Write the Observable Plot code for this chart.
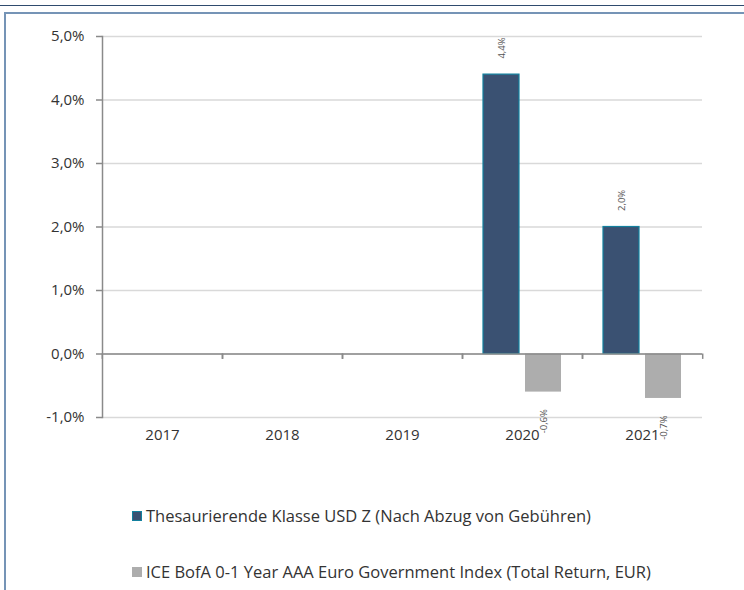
<!DOCTYPE html>
<html><head><meta charset="utf-8">
<script src="https://cdn.jsdelivr.net/npm/d3@7"></script>
<script src="https://cdn.jsdelivr.net/npm/@observablehq/plot@0.6"></script>
<style>
body{margin:0;background:#fff;font-family:"Open Sans",sans-serif;}
#page{position:relative;width:744px;height:590px;overflow:hidden;background:#fff;}
#topline{position:absolute;left:0;top:4.5px;width:744px;height:1.5px;background:#2f4b6e;}
#frame{position:absolute;left:4px;top:12px;width:800px;height:700px;border-left:2px solid #7594b6;border-top:2px solid #7594b6;}
#chart{position:absolute;left:0;top:0;}
.legend{position:absolute;left:132px;font-size:16.5px;line-height:22px;color:#333;display:flex;align-items:center;white-space:nowrap;}
.legend .sw{width:10px;height:10px;margin-right:4px;box-sizing:border-box;}
</style>
</head><body>
<div id="page">
  <div id="topline"></div>
  <div id="frame"></div>
  <div id="chart"></div>
  <div id="legend"></div>
</div>
<script>
const years = ["2017", "2018", "2019", "2020", "2021"];
const seriesNames = [
  "Thesaurierende Klasse USD Z (Nach Abzug von Gebühren)",
  "ICE BofA 0-1 Year AAA Euro Government Index (Total Return, EUR)"
];
const fundValues = [null, null, null, 4.4, 2.0];
const indexValues = [null, null, null, -0.6, -0.7];
const yTicks = [-1, 0, 1, 2, 3, 4, 5];
const colors = ["#3a5172", "#adadad"];
const fundStroke = "#12809e";

const rows = [];
years.forEach((yr, i) => {
  rows.push({year: yr, series: seriesNames[0], value: fundValues[i]});
  rows.push({year: yr, series: seriesNames[1], value: indexValues[i]});
});
const fmt = v => v == null ? "" : v.toFixed(1).replace(".", ",") + "%";

const W = 744, H = 460, ML = 101, MR = 41, MT = 36, MB = 43;
const halfBand = (W - ML - MR) / years.length / 2;

const chart = Plot.plot({
  width: W, height: H,
  marginTop: MT, marginLeft: ML, marginRight: MR, marginBottom: MB,
  style: {fontFamily: "Open Sans, sans-serif", color: "#333", background: "transparent"},
  fx: {domain: years, padding: 0, label: null},
  x: {domain: seriesNames, paddingInner: 0.14, paddingOuter: 0.47, axis: null},
  y: {domain: [-1, 5], label: null},
  color: {domain: seriesNames, range: colors},
  marks: [
    Plot.gridY(yTicks, {stroke: "#d9d9d9", strokeOpacity: 1, strokeWidth: 1.5}),
    Plot.barY(rows, {filter: d => d.series === seriesNames[0] && d.value != null, fx: "year", x: "series", y: "value", fill: "series", stroke: fundStroke, strokeWidth: 1.2}),
    Plot.barY(rows, {filter: d => d.series === seriesNames[1] && d.value != null, fx: "year", x: "series", y: "value", fill: "series"}),
    Plot.ruleY([0], {stroke: "#8a8a8a", strokeWidth: 1.5}),
    Plot.ruleX([0], {x: null, y1: 0, y2: -0.085, dx: -halfBand, stroke: "#8a8a8a", strokeWidth: 1.5}),
    Plot.ruleX([0], {x: null, y1: 0, y2: -0.085, dx: halfBand, stroke: "#8a8a8a", strokeWidth: 1.5}),
    Plot.frame({anchor: "left", stroke: "#8a8a8a", strokeWidth: 1.5, facetAnchor: "left"}),
    Plot.axisY({ticks: yTicks, tickFormat: fmt, tickSize: 6, tickPadding: 12, fontSize: 15, stroke: "#8a8a8a", strokeWidth: 1.5, label: null}),
    Plot.axisFx({anchor: "bottom", tickSize: 0, tickPadding: 12, fontSize: 15, label: null}),
    Plot.text(rows, {filter: d => d.value != null && d.value >= 0, fx: "year", x: "series", y: "value", text: d => fmt(d.value), rotate: -90, textAnchor: "start", dy: -16, fontSize: 9.5, fill: "#555"}),
    Plot.text(rows, {filter: d => d.value != null && d.value < 0, fx: "year", x: "series", y: "value", text: d => fmt(d.value), rotate: -90, textAnchor: "end", dy: 17, fontSize: 9.5, fill: "#555"})
  ]
});
document.getElementById("chart").appendChild(chart);

const legend = document.getElementById("legend");
const legendTops = [505, 561];
seriesNames.forEach((name, i) => {
  const item = document.createElement("div");
  item.className = "legend";
  item.style.top = legendTops[i] + "px";
  const sw = document.createElement("span");
  sw.className = "sw";
  sw.style.background = colors[i];
  if (i === 0) sw.style.border = "1px solid " + fundStroke;
  const label = document.createElement("span");
  label.textContent = name;
  item.appendChild(sw);
  item.appendChild(label);
  legend.appendChild(item);
});
</script>
</body></html>
